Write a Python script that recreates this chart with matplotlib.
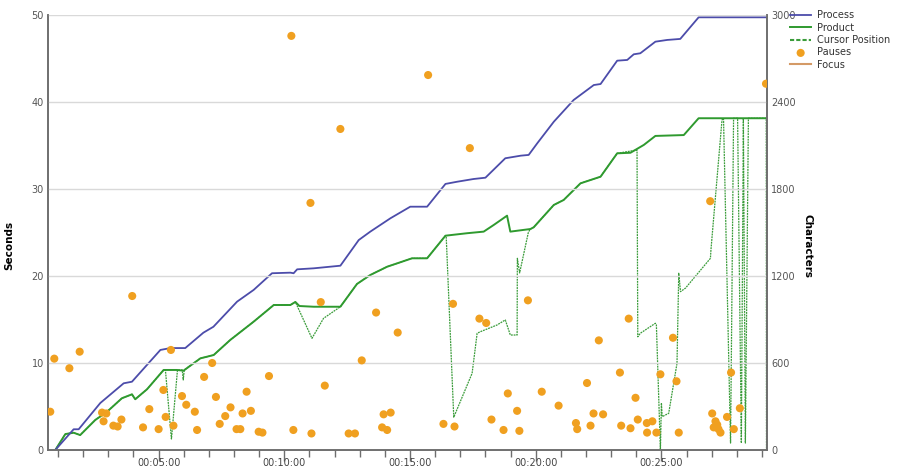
import numpy as np
import matplotlib.pyplot as plt
from matplotlib.ticker import FuncFormatter, MultipleLocator

# time in minutes, characters on the right axis, pause length in seconds on the left
process_t = [0.89, 1.62, 1.82, 2.68, 3.61, 3.94, 5.07, 5.47, 6.06, 6.78, 7.18, 8.12, 8.78,
             9.51, 10.24, 10.37, 10.51, 11.17, 12.23, 12.96, 13.42, 14.22, 15.01, 15.68,
             16.41, 16.87, 17.53, 18.00, 18.79, 19.41, 19.72, 20.06, 20.72, 21.51, 22.31,
             22.58, 23.24, 23.64, 23.90, 24.16, 24.76, 25.23, 25.75, 26.48, 29.2]
process_c = [0, 143, 143, 324, 460, 471, 690, 703, 703, 809, 850, 1023, 1104,
             1219, 1223, 1219, 1246, 1253, 1271, 1448, 1506, 1598, 1678, 1678,
             1835, 1850, 1869, 1878, 2012, 2030, 2035, 2115, 2264, 2414, 2517,
             2524, 2685, 2690, 2729, 2736, 2816, 2828, 2835, 2984, 2984]

product_t = [0.89, 1.29, 1.62, 1.88, 2.48, 2.95, 3.54, 3.94, 4.07, 4.54, 5.20, 5.73, 5.99,
             6.66, 7.19, 7.85, 8.78, 9.58, 10.24, 10.44, 10.60, 11.17, 12.23, 12.89, 13.42,
             14.09, 15.08, 15.68, 16.41, 17.27, 17.93, 18.33, 18.86, 18.99, 19.79, 19.92,
             20.72, 21.11, 21.78, 22.58, 23.24, 23.77, 24.30, 24.76, 25.89, 26.48, 29.2]
product_c = [0, 110, 119, 103, 207, 264, 357, 384, 350, 419, 552, 552, 547,
             632, 655, 759, 885, 1000, 1000, 1021, 993, 988, 988, 1145, 1207,
             1264, 1322, 1322, 1478, 1495, 1506, 1552, 1616, 1506, 1524, 1536,
             1690, 1724, 1839, 1885, 2046, 2050, 2104, 2166, 2172, 2288, 2288]

cursor_t = [0.89, 1.29, 1.62, 1.88, 2.48, 2.95, 3.54, 3.94, 4.07, 4.54, 5.20,
            5.27, 5.51, 5.75, 5.94, 5.98, 6.02,
            6.66, 7.19, 7.85, 8.78, 9.58, 10.24, 10.44,
            11.10, 11.56, 12.23,
            12.89, 13.42, 14.09, 15.08, 15.68, 16.41, 16.44,
            16.74, 17.47, 17.67, 17.80, 18.46, 18.79, 18.99, 19.19, 19.26, 19.27, 19.36,
            19.71, 19.79, 19.92, 20.72, 21.11, 21.78, 22.58, 23.24, 24.03,
            24.06, 24.16, 24.76, 24.80, 24.96, 25.00, 25.03, 25.29, 25.62, 25.69, 25.76,
            25.96, 26.95, 26.97, 27.15, 27.41, 27.47,
            27.75, 27.87, 28.03, 28.18, 28.26, 28.34, 28.46, 29.17, 29.18]
cursor_c = [0, 110, 119, 103, 207, 264, 357, 384, 350, 419, 552,
            552, 76, 552, 552, 483, 552,
            632, 655, 759, 885, 1000, 1000, 1021,
            770, 908, 988,
            1145, 1207, 1264, 1322, 1322, 1478, 1471,
            226, 529, 805, 816, 862, 897, 793, 793, 793, 1322, 1221,
            1503, 1524, 1536, 1690, 1724, 1839, 1885, 2046, 2069,
            781, 805, 874, 862, 0, 324, 230, 253, 598, 1219, 1092,
            1117, 1322, 1379, 1747, 2276, 2288,
            48, 2288, 2288, 48, 2288, 48, 2288, 2288, 0]

pause_t = [0.69, 0.85, 1.45, 1.86, 2.75, 2.92, 2.81, 3.20, 3.37, 3.52, 3.95, 4.38, 4.63,
           5.00, 5.19, 5.28, 5.49, 5.59, 5.93, 6.10, 6.44, 6.53, 6.81, 7.13, 7.28, 7.43,
           7.65, 7.86, 8.10, 8.25, 8.34, 8.50, 8.67, 8.98, 9.13, 9.39, 10.28, 10.36, 11.04,
           11.08, 11.45, 11.61, 12.23, 12.56, 12.81, 13.08, 13.65, 13.89, 13.95, 14.09,
           14.23, 14.51, 15.72, 16.33, 16.71, 16.77, 17.38, 17.76, 18.03, 18.24, 18.72,
           18.89, 19.26, 19.35, 19.69, 20.24, 20.91, 21.60, 21.65, 22.04, 22.18, 22.30,
           22.51, 22.68, 23.35, 23.40, 23.70, 23.77, 23.97, 24.06, 24.42, 24.64, 24.43,
           24.80, 24.96, 25.46, 25.60, 25.69, 26.94, 27.02, 27.15, 27.22, 27.08, 27.35,
           27.27, 27.61, 27.77, 27.88, 28.12, 29.16]
pause_s = [4.4, 10.5, 9.4, 11.3, 4.3, 4.2, 3.3, 2.8, 2.7, 3.5, 17.7, 2.6, 4.7,
           2.4, 6.9, 3.8, 11.5, 2.8, 6.2, 5.2, 4.4, 2.3, 8.4, 10.0, 6.1, 3.0,
           3.9, 4.9, 2.4, 2.4, 4.2, 6.7, 4.5, 2.1, 2.0, 8.5, 47.6, 2.3, 28.4,
           1.9, 17.0, 7.4, 36.9, 1.9, 1.9, 10.3, 15.8, 2.6, 4.1, 2.3,
           4.3, 13.5, 43.1, 3.0, 16.8, 2.7, 34.7, 15.1, 14.6, 3.5, 2.3,
           6.5, 4.5, 2.2, 17.2, 6.7, 5.1, 3.1, 2.4, 7.7, 2.8, 4.2,
           12.6, 4.1, 8.9, 2.8, 15.1, 2.5, 6.0, 3.5, 3.1, 3.3, 2.0,
           2.0, 8.7, 12.9, 7.9, 2.0, 28.6, 4.2, 3.3, 2.9, 2.6, 2.0,
           2.4, 3.8, 8.9, 2.4, 4.8, 42.1]

focus_t = []
focus_c = []

grey = '#6e6e6e'
plt.rcParams['font.family'] = ['DejaVu Sans']

fig = plt.figure(figsize=(9, 4.68), dpi=100)
ax = fig.add_axes([48 / 900, 18 / 468, 719 / 900, 435 / 468])
ax2 = ax.twinx()

ax.set_xlim(0.6, 29.2)
ax.set_ylim(0, 50)
ax2.set_ylim(0, 3000)

ax.set_yticks(range(0, 51, 10))
ax2.set_yticks(range(0, 3001, 600))
ax.grid(axis='y', color='#d9d9d9', lw=1)
ax.set_axisbelow(True)

def hms(m, pos):
    sec = int(round(m * 60))
    return f'{sec // 3600:02d}:{sec % 3600 // 60:02d}:{sec % 60:02d}'

ax.xaxis.set_major_locator(MultipleLocator(5))
ax.xaxis.set_minor_locator(MultipleLocator(1))
ax.xaxis.set_major_formatter(FuncFormatter(hms))
ax.tick_params(axis='x', which='major', length=8, width=1, color=grey,
               labelsize=7, labelcolor='#444444', pad=-2)
ax.tick_params(axis='x', which='minor', length=5, width=1, color=grey)
ax.tick_params(axis='y', length=0, labelsize=7, labelcolor='#555555', pad=3)
ax2.tick_params(axis='y', length=0, labelsize=7, labelcolor='#555555', pad=3)

for a in (ax, ax2):
    a.spines['top'].set_visible(False)
    for side in ('left', 'right', 'bottom'):
        a.spines[side].set_color(grey)
        a.spines[side].set_linewidth(1.2)

ax.set_ylabel('Seconds', fontsize=7.5, fontweight='bold')
ax.yaxis.set_label_coords(-0.047, 0.47)
ax2.set_ylabel('Characters', fontsize=7.5, fontweight='bold', rotation=270, va='center')
ax2.yaxis.set_label_coords(1.057, 0.47)

# lines live on the characters axis, pauses on the seconds axis
h_cur, = ax2.plot(cursor_t, cursor_c, color='#3a9c3a', lw=0.9, ls=(0, (1.5, 0.7)),
                  label='Cursor Position')
h_prod, = ax2.plot(product_t, product_c, color='#2f9a2f', lw=1.4, label='Product')
h_proc, = ax2.plot(process_t, process_c, color='#4c4caa', lw=1.3, label='Process')
h_foc, = ax2.plot(focus_t, focus_c, color='#d49a66', lw=1.5, label='Focus')
ax2.set_zorder(1)
ax.set_zorder(2)
ax.patch.set_visible(False)
h_pause = ax.scatter(pause_t, pause_s, s=34, color='#f0a020', edgecolors='none',
                     label='Pauses', zorder=3)

legend_cursor, = plt.plot([], [], color='#3a9c3a', lw=1.5, ls=(0, (2, 1)))
fig.legend(handles=[h_proc, h_prod, legend_cursor, h_pause, h_foc],
           labels=['Process', 'Product', 'Cursor Position', 'Pauses', 'Focus'],
           loc='upper left', bbox_to_anchor=(0.868, 0.997), frameon=False,
           fontsize=7, handlelength=2.2, handletextpad=0.6, labelspacing=0.25,
           labelcolor='#333333')

fig.savefig('out.png', dpi=100)
